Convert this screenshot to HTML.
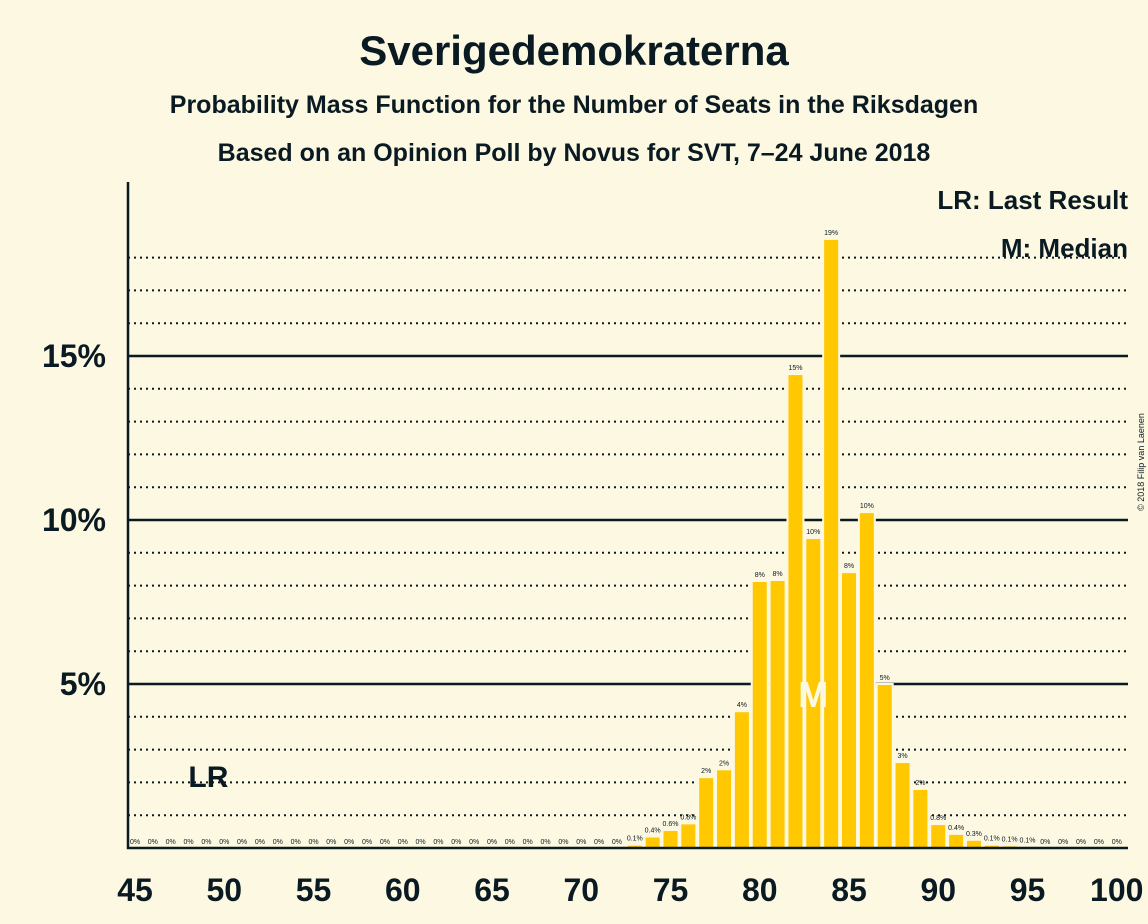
<!DOCTYPE html>
<html><head><meta charset="utf-8"><style>
body{margin:0;background:#fdf8e2;}
svg{display:block;font-family:"Liberation Sans",sans-serif;}
</style></head><body>
<svg id="c" width="1148" height="924" viewBox="0 0 1148 924">
<rect width="1148" height="924" fill="#fdf8e2"/>
<text x="574" y="65" text-anchor="middle" font-size="42" font-weight="bold" fill="#0a1a22">Sverigedemokraterna</text>
<text x="574" y="113" text-anchor="middle" font-size="25" font-weight="bold" fill="#0a1a22">Probability Mass Function for the Number of Seats in the Riksdagen</text>
<text x="574" y="161" text-anchor="middle" font-size="25" font-weight="bold" fill="#0a1a22">Based on an Opinion Poll by Novus for SVT, 7–24 June 2018</text>
<text transform="translate(1144,462) rotate(-90)" text-anchor="middle" font-size="9" fill="#0a1a22">© 2018 Filip van Laenen</text>
<g id="grid"></g>
<g id="bars"></g>
<g id="axes"></g>
<text x="1128" y="209" text-anchor="end" font-size="26" font-weight="bold" fill="#0a1a22">LR: Last Result</text>
<text x="1128" y="257" text-anchor="end" font-size="26" font-weight="bold" fill="#0a1a22">M: Median</text>
</svg>
<script>
const seats=[];for(let s=45;s<=100;s++)seats.push(s);
const probs=[0,0,0,0,0,0,0,0,0,0,0,0,0,0,0,0,0,0,0,0,0,0,0,0,0,0,0,0,0.1,0.35,0.55,0.75,2.16,2.4,4.17,8.14,8.17,14.45,9.45,18.57,8.41,10.24,5.0,2.62,1.8,0.73,0.43,0.25,0.1,0.08,0.05,0,0,0,0,0];
const printed=["0%","0%","0%","0%","0%","0%","0%","0%","0%","0%","0%","0%","0%","0%","0%","0%","0%","0%","0%","0%","0%","0%","0%","0%","0%","0%","0%","0%","0.1%","0.4%","0.6%","0.8%","2%","2%","4%","8%","8%","15%","10%","19%","8%","10%","5%","3%","2%","0.8%","0.4%","0.3%","0.1%","0.1%","0.1%","0%","0%","0%","0%","0%"];
const yTicks=[5,10,15];
const xTicks=[45,50,55,60,65,70,75,80,85,90,95,100];
const medianSeat=83, lastResult=49;
const NS="http://www.w3.org/2000/svg";
const x=s=>135+(s-45)*17.85;
const y=v=>848-v*32.8;
function mk(tag,attrs,parent,txt){const e=document.createElementNS(NS,tag);for(const k in attrs)e.setAttribute(k,attrs[k]);if(txt!==undefined)e.textContent=txt;parent.appendChild(e);return e;}
const grid=document.getElementById('grid'),bars=document.getElementById('bars'),axes=document.getElementById('axes');
for(let v=1;v<=18;v++){
  const solid=yTicks.includes(v);
  const l=mk('line',{x1:128,x2:1128,y1:y(v),y2:y(v),stroke:'#0a1a22','stroke-width':solid?2.5:2,'stroke-dasharray':solid?'none':'2,4'},grid);
  
  
}
yTicks.forEach(v=>{
  const t=mk('text',{x:106,y:y(v)+11,'text-anchor':'end','font-size':32,'font-weight':'bold',fill:'#0a1a22'},axes,v+'%');
  
  
});
seats.forEach((s,i)=>{
  const v=probs[i];
  if(v>0){
    const r=mk('rect',{x:x(s)-8,y:y(v),width:16,height:848-y(v),fill:'#ffc800',stroke:'#fdf8e2','stroke-width':2},bars);
    
    
  }
  const t=mk('text',{x:x(s),y:y(v)-4,'text-anchor':'middle','font-size':7,fill:'#0a1a22'},bars,printed[i]);
  
  
});
const m=mk('text',{x:x(medianSeat),y:y(4.3),'text-anchor':'middle','font-size':36,'font-weight':'bold',fill:'#fdf8e2'},bars,'M');


const lr=mk('text',{x:x(lastResult)+2,y:787,'text-anchor':'middle','font-size':30,'font-weight':'bold',fill:'#0a1a22'},bars,'LR');


const ax=mk('path',{d:'M128,182 V848 H1128',fill:'none',stroke:'#0a1a22','stroke-width':2.5},axes);


xTicks.forEach(s=>{
  const t=mk('text',{x:x(s),y:901,'text-anchor':'middle','font-size':32,'font-weight':'bold',fill:'#0a1a22'},axes,String(s));
  
  
});
</script>
</body></html>
